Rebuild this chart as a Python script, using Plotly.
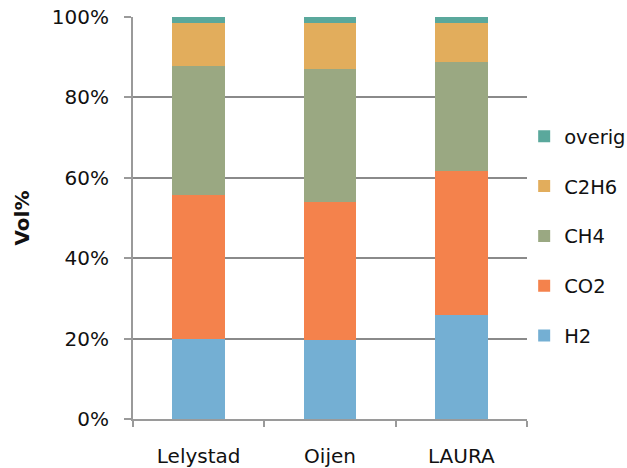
import plotly.graph_objects as go

# Gas composition per site (volume percent)
sites = ["Lelystad", "Oijen", "LAURA"]
h2 = [20.0, 19.7, 25.9]
co2 = [35.7, 34.4, 35.8]
ch4 = [32.2, 32.9, 27.1]
c2h6 = [10.7, 11.6, 9.8]
overig = [1.4, 1.4, 1.4]

y_ticks = [0, 20, 40, 60, 80, 100]
y_tick_labels = ["0%", "20%", "40%", "60%", "80%", "100%"]

series = [
    ("H2", h2, "#74AFD3"),
    ("CO2", co2, "#F4824C"),
    ("CH4", ch4, "#9AA882"),
    ("C2H6", c2h6, "#E2AD5C"),
    ("overig", overig, "#5AA89C"),
]

FONT = "'DejaVu Sans', sans-serif"
AXIS_GREY = "#9a9a9a"

fig = go.Figure()
n = len(series)
for i, (name, vals, color) in enumerate(series):
    fig.add_trace(go.Bar(
        x=sites, y=vals, name=name,
        marker=dict(color=color, line=dict(width=0)),
        legendgroup=f"g{i}",
        legendrank=n - i,  # top of the stack listed first
    ))

fig.update_layout(
    width=627, height=468,
    barmode="stack",
    bargap=0.6,
    plot_bgcolor="white",
    paper_bgcolor="white",
    margin=dict(l=133, r=100, t=17, b=49, autoexpand=False),
    font=dict(family=FONT, size=20, color="#111111"),
    legend=dict(
        xref="container", yref="container",
        x=0.836, y=0.50, xanchor="left", yanchor="middle",
        traceorder="grouped",
        tracegroupgap=21.5,
        font=dict(size=19.5, family=FONT),
        itemwidth=30,
        bgcolor="rgba(0,0,0,0)",
    ),
    showlegend=True,
)

fig.update_yaxes(
    range=[0, 100],
    tickvals=y_ticks, ticktext=y_tick_labels,
    showgrid=True, gridcolor="#8a8a8a", gridwidth=2,
    showline=True, linecolor=AXIS_GREY, linewidth=2,
    ticks="outside", ticklen=7, tickcolor=AXIS_GREY, tickwidth=2,
    ticklabelstandoff=11,
    tickfont=dict(size=20),
    title=dict(text="<b>Vol%</b>", font=dict(size=20), standoff=17),
    zeroline=False,
    automargin=False,
)
fig.update_xaxes(
    showline=True, linecolor=AXIS_GREY, linewidth=2,
    ticks="outside", ticklen=6, tickcolor=AXIS_GREY, tickwidth=2,
    tickson="boundaries",
    ticklabelstandoff=18,
    tickfont=dict(size=20),
    showgrid=False,
    automargin=False,
)

fig.write_html("out.html")
